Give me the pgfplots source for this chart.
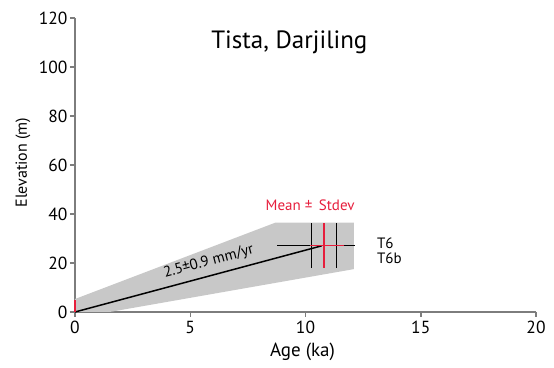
\documentclass[border=0pt]{standalone}
\usepackage{pgfplots}
\pgfplotsset{compat=1.18}
\usepackage{fontspec}
\setmainfont{PT Sans}
\definecolor{myred}{RGB}{230,30,60}
\definecolor{band}{RGB}{200,200,200}
\definecolor{axgray}{RGB}{125,125,125}
\begin{document}
\begin{tikzpicture}
\begin{axis}[
  scale only axis, width=461pt, height=294pt,
  xmin=0, xmax=20, ymin=0, ymax=120,
  axis lines=left,
  axis line style={axgray, line width=2pt, -},
  xtick={0,5,10,15,20}, ytick={0,20,40,60,80,100,120},
  tick style={axgray, line width=1.5pt},
  major tick length=5pt, tick align=outside,
  /pgf/number format/assume math mode=true,
  ticklabel style={font=\fontsize{17.5}{20}\selectfont},
  xticklabel style={yshift=-1pt},
  yticklabel style={xshift=1pt},
  clip=false,
]
\addplot[fill=band, draw=none] coordinates {(0,0) (0,5.3) (8.7,36.5) (12.1,36.5) (12.1,17.5) (1.5,0)} -- cycle;
\addplot[black, line width=1.5pt] coordinates {(0,0) (10.7,27)};
\addplot[black, line width=1.4pt] coordinates {(8.77,27.1) (12.13,27.1)};
\addplot[black, line width=1.4pt] coordinates {(10.26,18) (10.26,36.3)};
\addplot[black, line width=1.4pt] coordinates {(11.35,18) (11.35,36.3)};
\addplot[myred, line width=1.1pt] coordinates {(10.2,27.1) (11.65,27.1)};
\addplot[myred, line width=1.3pt] coordinates {(10.8,18) (10.8,36.3)};
\addplot[myred, line width=1.5pt] coordinates {(0,0) (0,5)};
\node[font=\fontsize{25}{29}\selectfont] at (axis cs:9.3,110) {Tista, Darjiling};
\node[font=\fontsize{15}{18}\selectfont, text=myred] at (axis cs:10.2,43.7) {Mean ±\ \,Stdev};
\node[font=\fontsize{15}{18}\selectfont, anchor=west] at (axis cs:12.95,28) {T6};
\node[font=\fontsize{15}{18}\selectfont, anchor=west] at (axis cs:12.95,22) {T6b};
\node[font=\fontsize{15}{18}\selectfont, rotate=15] at (axis cs:5.8,20.5) {2.5±0.9 mm/yr};
\node[font=\fontsize{19}{22}\selectfont, yshift=-40pt] at (axis cs:9.87,0) {Age (ka)};
\node[font=\fontsize{16}{19}\selectfont, xshift=-52pt, rotate=90] at (axis cs:0,61) {Elevation (m)};
\end{axis}
\pgfresetboundingbox
\path[use as bounding box] ([xshift=-75pt,yshift=-56pt]current axis.south west) rectangle ([xshift=18pt,yshift=18pt]current axis.north east);
\end{tikzpicture}
\end{document}
